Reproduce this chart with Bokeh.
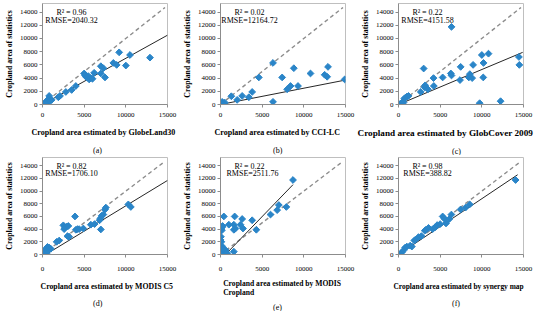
from bokeh.plotting import figure
from bokeh.layouts import column, row
from bokeh.models import Range1d, FixedTicker, Label, Title
from bokeh.embed import file_html
from bokeh.resources import INLINE
import numpy as np

# ---------------- data ----------------
a_x = [200, 350, 500, 600, 800, 700, 900, 1100, 400, 1900, 2100, 2800, 3500, 4000,
       5000, 5100, 5300, 5500, 5600, 5800, 6000, 6200, 7000, 7000, 7300, 7500,
       8500, 8900, 9200, 10000, 10500, 12900]
a_y = [100, 250, 550, 300, 1300, 800, 500, 700, 150, 1100, 1300, 1900, 2200, 2800,
       4700, 4400, 4100, 4300, 3800, 4000, 3900, 4800, 5800, 4700, 5500, 4100,
       6300, 6000, 7900, 5900, 7500, 7100]

b_x = [200, 300, 400, 500, 1300, 2000, 2600, 3400, 3800, 4600, 6300, 6300, 7400,
       8000, 8400, 8800, 9300, 10800, 12500, 12800, 12900, 14900]
b_y = [400, 200, 100, 300, 1250, 700, 1300, 1100, 1900, 4100, 6300, 400, 4100,
       2300, 2800, 5500, 2800, 4700, 4500, 4200, 5700, 3800]

c_x = [6360, 3020, 200, 400, 500, 700, 800, 1000, 1200, 600, 2670, 3140, 3200, 3530,
       4200, 4240, 5300, 6280, 6360, 7460, 7380, 8440, 8560, 8950, 8840, 10000,
       10200, 10170, 10800, 9740, 12250, 14450, 14500]
c_y = [11760, 5450, 100, 200, 400, 900, 1000, 1200, 1300, 300, 1900, 2600, 2900, 2300,
       4000, 2800, 4100, 4700, 4400, 5700, 3700, 4100, 4600, 6000, 4000, 7500,
       6300, 4100, 7700, 200, 500, 7200, 6000]

d_x = [0, 200, 400, 600, 800, 700, 1000, 500, 300, 1700, 2000, 3000, 3200, 2500,
       2700, 2900, 3100, 2600, 3900, 4000, 4200, 4400, 4900, 5800, 6250, 6850, 6950,
       7100, 7300, 7000, 7500, 7600, 10300, 10600]
d_y = [200, 400, 900, 1200, 1100, 700, 900, 100, 0, 2000, 2200, 2900, 2800, 4600,
       4300, 4400, 4500, 4000, 6000, 3900, 4000, 4000, 4100, 4700, 4800, 5400, 5700,
       6100, 6300, 3950, 7100, 7400, 7900, 7500]

e_x = [0, 100, 150, 200, 100, 50, 150, 100, 200, 250, 300, 400, 600, 800, 1000,
       1600, 1700, 1600, 1800, 1600, 2400, 2600, 2700, 3800, 4300, 6000, 6800,
       7000, 7900, 8700, 300, 0]
e_y = [0, 500, 1000, 1300, 2000, 2800, 3800, 4000, 4300, 4500, 200, 6000, 700, 200,
       4700, 4700, 6000, 3900, 4100, 450, 4700, 5600, 4100, 5400, 3900, 6300, 7000,
       7800, 7500, 11750, 900, 2300]

f_x = [200, 400, 600, 800, 1000, 1400, 1600, 1900, 2000, 2400, 2750, 3150, 3300,
       3600, 4100, 4400, 4650, 5000, 5300, 5500, 5700, 6100, 6350, 7450, 8050, 8550,
       14050]
f_y = [100, 350, 650, 1100, 1250, 1400, 1250, 2200, 2300, 2750, 2900, 3750, 3900,
       4200, 4000, 4300, 4650, 4800, 6000, 5650, 4900, 5600, 6300, 7100, 7400, 7900,
       11750]

r2_text = ["R\u00b2 = 0.96", "R\u00b2 = 0.02", "R\u00b2 = 0.22",
           "R\u00b2 = 0.82", "R\u00b2 = 0.22", "R\u00b2 = 0.98"]
rmse_text = ["RMSE=2040.32", "RMSE=12164.72", "RMSE=4151.58",
             "RMSE=1706.10", "RMSE=2511.76", "RMSE=388.82"]
x_titles = ["Cropland area estimated by GlobeLand30",
            "Cropland area estimated by  CCI-LC",
            "Cropland area estimated by GlobCover 2009",
            "Cropland area estimated by MODIS C5",
            "Cropland area estimated by  MODIS\nCropland",
            "Cropland area estimated by synergy map"]
captions = ["(a)", "(b)", "(c)", "(d)", "(e)", "(f)"]
y_title = "Cropland area of statistics"

# trend lines: slope, intercept, x-start, x-end
trend_slope = [0.70, 0.247, 0.53, 0.80, 1.36, 0.88]
trend_intercept = [0, 0, 0, -320, -816, 0]
trend_x0 = [0, 0, 0, 400, 600, 0]
trend_x1 = [15000, 15000, 14900, 15000, 8700, 14300]

x_ticks = [0, 5000, 10000, 15000]
y_ticks = [0, 2000, 4000, 6000, 8000, 10000, 12000, 14000]
one_to_one = [0, 14700]

# ---------------- styling / layout ----------------
FONT = "Liberation Serif"
BLUE = "#2a85c8"
XMAX, YMAX = 15000, 15300
FRAME_L, FRAME_W, FRAME_H = 42, 125, 108

# per-panel text placement (canvas px)
title_align = ["left", "left", "left", "left", "center", "left"]
title_left = [31, 36, 1, 40, 0, 37]
title_fs = ["8px", "8px", "9.2px", "7.8px", "7.6px", "7.4px"]
title_standoff = [13, 13, 13, 12, 7, 12]
tick_label_standoff = [5, 5, 5, 9, 9, 9]
caption_cx = [97, 99, 100, 97, 99, 100]
rmse_cx = [71, 71, 71, 71, 74, 71]


def px_to_x(px):
    return (px - FRAME_L) / FRAME_W * XMAX


def make_panel(i, xs, ys, height, top):
    p = figure(width=178, height=height,
               x_range=Range1d(0, XMAX), y_range=Range1d(0, YMAX),
               output_backend="svg", toolbar_location=None,
               min_border_left=FRAME_L, min_border_right=178 - FRAME_L - FRAME_W,
               min_border_top=top, min_border_bottom=height - top - FRAME_H)
    p.grid.visible = False
    p.outline_line_color = "#bfbfbf"
    p.outline_line_width = 1
    p.background_fill_color = "white"
    p.border_fill_color = "white"

    for ax in (p.xaxis[0], p.yaxis[0]):
        ax.axis_line_color = "#8c8c8c"
        ax.major_tick_line_color = "#8c8c8c"
        ax.minor_tick_line_color = None
        ax.major_tick_in = 0
        ax.major_tick_out = 3
        ax.major_label_text_font = FONT
        ax.major_label_text_font_size = "7px"
        ax.major_label_text_color = "#000000"
        ax.axis_label_text_font = FONT
        ax.axis_label_text_font_size = "7.8px"
        ax.axis_label_text_font_style = "bold"
        ax.axis_label_text_color = "#000000"
    p.xaxis.major_label_standoff = tick_label_standoff[i]
    p.yaxis.major_label_standoff = 2
    p.xaxis.ticker = FixedTicker(ticks=x_ticks)
    p.yaxis.ticker = FixedTicker(ticks=y_ticks)
    p.yaxis.axis_label = y_title
    p.yaxis.axis_label_standoff = 3

    # 1:1 dashed line
    p.line(one_to_one, one_to_one, line_color="#8c8c8c", line_width=1.4,
           line_dash="4 3")
    # trend line
    tx = np.array([trend_x0[i], trend_x1[i]], dtype=float)
    ty = trend_slope[i] * tx + trend_intercept[i]
    p.line(tx, ty, line_color="#262626", line_width=1)
    # points
    p.scatter(xs, ys, marker="square", angle=np.pi / 4, size=4.8,
              fill_color=BLUE, line_color=BLUE)

    p.add_layout(Label(x=px_to_x(71), y=13950, text=r2_text[i], text_font=FONT,
                       text_font_size="8px", text_align="center",
                       text_baseline="middle", text_color="#000000"))
    p.add_layout(Label(x=px_to_x(rmse_cx[i]), y=12750, text=rmse_text[i],
                       text_font=FONT, text_font_size="8px", text_align="center",
                       text_baseline="middle", text_color="#000000"))
    # x-axis title, as a title below the axis
    p.add_layout(Title(text=x_titles[i], align=title_align[i],
                       offset=title_left[i] - FRAME_L if title_align[i] == "left" else 0,
                       text_font=FONT, text_font_size=title_fs[i],
                       text_font_style="bold", text_color="#000000",
                       standoff=title_standoff[i]), "below")
    # caption
    p.add_layout(Title(text=captions[i], align="left",
                       offset=caption_cx[i] - 4.5 - FRAME_L,
                       text_font=FONT, text_font_size="8px",
                       text_font_style="normal", text_color="#000000",
                       standoff=0), "below")
    return p


pa = make_panel(0, a_x, a_y, 155, 3)
pb = make_panel(1, b_x, b_y, 155, 3)
pc = make_panel(2, c_x, c_y, 155, 3)
pd = make_panel(3, d_x, d_y, 156, 2)
pe = make_panel(4, e_x, e_y, 156, 2)
pf = make_panel(5, f_x, f_y, 156, 2)

layout = column(row(pa, pb, pc), row(pd, pe, pf))

with open("out.html", "w") as fh:
    fh.write(file_html(layout, INLINE))
